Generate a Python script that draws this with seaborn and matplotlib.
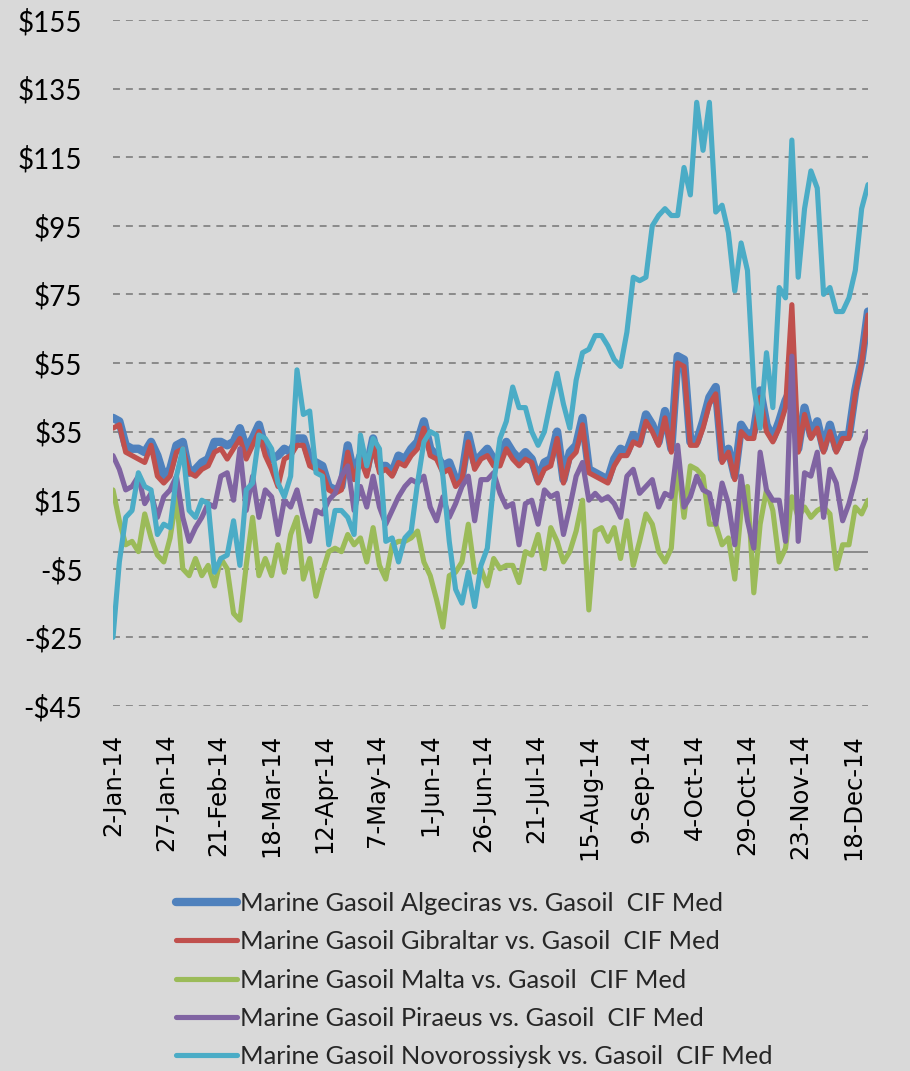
import pandas as pd
import matplotlib
matplotlib.use("Agg")
import matplotlib.pyplot as plt
import seaborn as sns

# sampling dates: every 3 days from 2-Jan-14
start = pd.Timestamp("2014-01-02")
day_offsets = list(range(0, 358, 3))
dates = [start + pd.Timedelta(days=d) for d in day_offsets]

# spreads vs Gasoil CIF Med ($/t)
algeciras = [39, 38, 31, 30, 30, 29, 32, 28, 22, 24, 31, 32, 23, 24, 26, 27, 32, 32, 31, 32, 36, 30, 33, 37, 30, 27, 28, 30, 29, 33, 33,
             27, 26, 25, 19, 18, 19, 31, 22, 28, 24, 33, 25, 25, 23, 28, 27, 30, 32, 38, 30, 28, 25, 26, 21, 22, 34, 26, 28, 30, 27,
             27, 32, 29, 27, 29, 27, 21, 26, 27, 35, 21, 29, 31, 39, 24, 23, 22, 21, 27, 30, 29, 34, 32, 40, 37, 32, 41, 30, 57, 56, 32,
             32, 38, 45, 48, 27, 30, 22, 37, 34, 35, 47, 37, 33, 38, 44, 48, 30, 42, 34, 38, 30, 37, 30, 34, 34, 47, 56, 70]
gibraltar = [36, 37, 29, 28, 27, 26, 31, 22, 20, 22, 29, 30, 23, 22, 24, 25, 29, 30, 27, 30, 33, 27, 31, 35, 28, 24, 19, 27, 28, 31, 31,
             25, 24, 23, 18, 17, 18, 29, 21, 27, 22, 31, 23, 24, 22, 26, 25, 28, 30, 36, 28, 27, 23, 24, 19, 21, 32, 24, 27, 28, 25,
             25, 30, 27, 25, 27, 26, 20, 24, 25, 33, 20, 27, 29, 37, 23, 22, 21, 20, 25, 28, 28, 32, 31, 38, 35, 31, 39, 29, 55, 54, 31,
             31, 36, 43, 46, 26, 29, 21, 35, 33, 33, 45, 35, 32, 36, 42, 72, 29, 40, 33, 36, 29, 35, 29, 33, 33, 46, 55, 69]
malta = [18, 9, 2, 3, 0, 11, 4, -1, -3, 4, 16, -5, -7, -2, -7, -4, -10, -2, -5, -18, -20, -4, 10, -7, -2, -7, 2, -6, 5, 10, -8,
         -2, -13, -6, 0, 1, 0, 5, 2, 4, -3, 7, -4, -8, 2, 3, 3, 4, 6, -3, -7, -14, -22, -7, -6, -3, 8, -6, -5, -10, -2,
         -5, -4, -4, -9, 0, -1, 5, -5, 7, 3, -3, 0, 6, 15, -17, 6, 7, 3, 7, -2, 9, -4, 3, 11, 8, 0, -3, 1, 26, 10, 25,
         24, 22, 8, 8, 2, 4, -8, 12, 19, -12, 8, 18, 12, -3, 1, 16, 10, 13, 10, 12, 13, 11, -5, 2, 2, 13, 11, 15]
piraeus = [28, 24, 18, 19, 22, 14, 17, 10, 16, 18, 22, 10, 3, 7, 10, 14, 13, 22, 23, 15, 30, 12, 22, 10, 18, 16, 5, 15, 13, 18, 10,
           3, 12, 11, 15, 17, 22, 25, 12, 19, 13, 22, 13, 8, 12, 16, 19, 21, 20, 22, 13, 9, 16, 10, 14, 19, 22, 9, 21, 21, 23,
           17, 13, 14, 2, 14, 15, 8, 18, 16, 17, 5, 13, 22, 26, 15, 17, 15, 16, 14, 10, 22, 24, 17, 19, 21, 13, 17, 16, 31, 13, 16,
           22, 18, 17, 8, 20, 14, 2, 22, 9, 1, 29, 18, 15, 15, 3, 57, 3, 23, 22, 29, 10, 24, 20, 9, 14, 21, 30, 35]
novorossiysk = [-25, -3, 10, 12, 23, 19, 18, 5, 8, 7, 22, 30, 12, 10, 15, 14, -6, -2, -1, 9, -4, 18, 20, 34, 33, 30, 20, 16, 22, 53, 40,
                41, 23, 22, 2, 12, 12, 10, 5, 34, 25, 33, 30, 3, 4, -3, 4, 6, 20, 32, 35, 34, 22, 3, -11, -15, -6, -16, -4, 1, 20,
                33, 38, 48, 42, 42, 35, 31, 35, 44, 52, 43, 36, 50, 58, 59, 63, 63, 60, 56, 54, 64, 80, 79, 80, 95, 98, 100, 98, 98, 112, 104,
                131, 117, 131, 99, 101, 93, 76, 90, 82, 48, 36, 58, 42, 77, 74, 120, 80, 100, 111, 106, 75, 77, 70, 70, 74, 82, 100, 107]

labels = ["Marine Gasoil Algeciras vs. Gasoil  CIF Med",
          "Marine Gasoil Gibraltar vs. Gasoil  CIF Med",
          "Marine Gasoil Malta vs. Gasoil  CIF Med",
          "Marine Gasoil Piraeus vs. Gasoil  CIF Med",
          "Marine Gasoil Novorossiysk vs. Gasoil  CIF Med"]
colors = ["#4F81BD", "#C0504D", "#9BBB59", "#8064A2", "#4BACC6"]
widths = [6.0, 3.7, 3.7, 3.7, 3.7]
values = [algeciras, gibraltar, malta, piraeus, novorossiysk]

y_ticks = list(range(-45, 156, 20))
x_ticks = [start + pd.Timedelta(days=d) for d in range(0, 351, 25)]

bg = "#D9D9D9"
sns.set_theme(style="white", rc={"figure.facecolor": bg, "axes.facecolor": bg})
plt.rcParams["lines.scale_dashes"] = False

fig, ax = plt.subplots(figsize=(9.1, 10.71), dpi=100)
fig.subplots_adjust(left=113 / 910, right=868 / 910, top=1 - 20 / 1071, bottom=1 - 706 / 1071)

# gridlines + solid zero line
for v in y_ticks:
    ax.axhline(v, color="#8A8A8A", lw=1.4, ls=(0, (5, 4.3)), zorder=0)
ax.axhline(0, color="#8A8A8A", lw=1.4, zorder=0)

for vals, lab, col, lw in zip(values, labels, colors, widths):
    df = pd.DataFrame({"date": dates, "value": vals})
    sns.lineplot(data=df, x="date", y="value", ax=ax, color=col, lw=lw, label=lab,
                 solid_joinstyle="round", solid_capstyle="round")

ax.set_xlim(start, start + pd.Timedelta(days=357))
ax.set_ylim(-45, 155)
ax.set_yticks(y_ticks)
ax.set_yticklabels([f"${v}" if v >= 0 else f"-${-v}" for v in y_ticks],
                   fontfamily="Lato", fontsize=20)
ax.set_xticks(x_ticks)
ax.set_xticklabels([f"{d.day}-{d.strftime('%b-%y')}" for d in x_ticks],
                   rotation=90, fontfamily="DejaVu Sans", fontsize=17.5)
ax.tick_params(axis="both", length=0, colors="black")
ax.tick_params(axis="y", pad=22)
ax.tick_params(axis="x", pad=20)
ax.set_xlabel("")
ax.set_ylabel("")
sns.despine(ax=ax, left=True, bottom=True)

ax.legend(loc="upper left", bbox_to_anchor=(176 / 910, 1 - 892 / 1071), bbox_transform=fig.transFigure,
          frameon=False, prop={"family": "Lato", "size": 18.3}, handlelength=2.4, handletextpad=0.1,
          labelspacing=0.6, borderpad=0, borderaxespad=0)

fig.savefig("out.png", dpi=100, facecolor=bg)
